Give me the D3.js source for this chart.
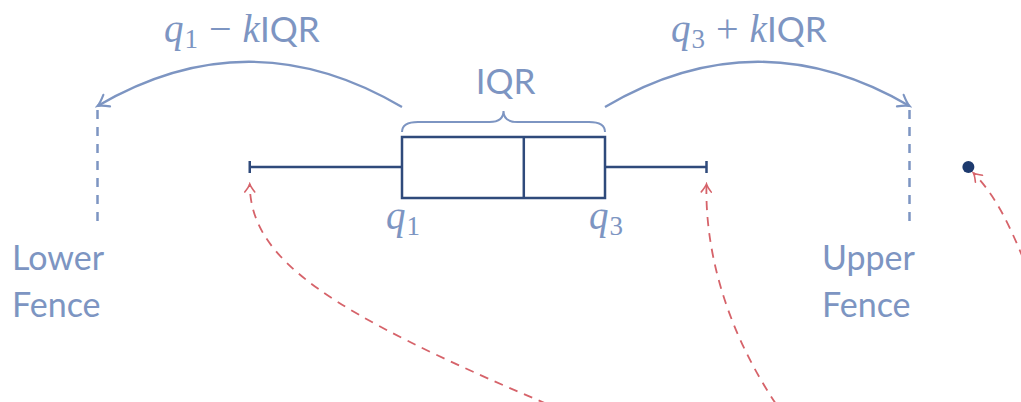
<!DOCTYPE html>
<html>
<head>
<meta charset="utf-8">
<script src="https://cdn.jsdelivr.net/npm/d3@7"></script>
<style>
  html, body { margin: 0; padding: 0; background: #fff; }
  svg { display: block; }
</style>
</head>
<body>
<div id="chart"></div>
<script>
// Box plot summary (IQR = 1, k = 1.5)
var statNames = ["lowerFence", "whiskerLow", "q1", "median", "q3", "whiskerHigh", "upperFence"];
var statValues = [-1.5, -0.75, 0, 0.6, 1, 1.5, 2.5];
var outliers = [2.79];
var kFactor = 1.5;

// Text labels
var fenceLabels = [["Lower", "Fence"], ["Upper", "Fence"]];
var quartileLabels = ["1", "3"];

var svgWidth = 1021;
var svgHeight = 402;

var light = "#7d95c2";
var dark = "#2f4a7b";
var red = "#d6636a";

var stats = {};
statNames.forEach(function(n, i) { stats[n] = statValues[i]; });

var x = d3.scaleLinear()
    .domain([stats.q1, stats.q3])
    .range([402, 605]);

var midY = 167;
var boxTop = 137;
var boxBottom = 198;

var svg = d3.select("#chart")
    .append("svg")
    .attr("width", svgWidth)
    .attr("height", svgHeight);

var defs = svg.append("defs");

// open chevron arrowheads
function addMarker(id, color, size) {
    defs.append("marker")
        .attr("id", id)
        .attr("viewBox", "-10 -6 12 12")
        .attr("refX", 0)
        .attr("refY", 0)
        .attr("markerWidth", size)
        .attr("markerHeight", size)
        .attr("markerUnits", "userSpaceOnUse")
        .attr("orient", "auto")
      .append("path")
        .attr("d", "M-8,-5 Q-3,-1 0,0 Q-3,1 -8,5")
        .attr("fill", "none")
        .attr("stroke", color)
        .attr("stroke-width", 1.6)
        .attr("stroke-linecap", "round");
}
addMarker("arrowBlue", light, 16);
addMarker("arrowRed", red, 12);

// whisker line
svg.append("line")
    .attr("x1", x(stats.whiskerLow))
    .attr("x2", x(stats.whiskerHigh))
    .attr("y1", midY)
    .attr("y2", midY)
    .attr("stroke", dark)
    .attr("stroke-width", 2.5);

// whisker caps
svg.selectAll(".cap")
    .data([stats.whiskerLow, stats.whiskerHigh])
    .enter().append("line")
    .attr("class", "cap")
    .attr("x1", d => x(d))
    .attr("x2", d => x(d))
    .attr("y1", midY - 6)
    .attr("y2", midY + 6)
    .attr("stroke", dark)
    .attr("stroke-width", 2.5);

// box
svg.append("rect")
    .attr("x", x(stats.q1))
    .attr("y", boxTop)
    .attr("width", x(stats.q3) - x(stats.q1))
    .attr("height", boxBottom - boxTop)
    .attr("fill", "#fff")
    .attr("stroke", dark)
    .attr("stroke-width", 2.5);

// median
svg.append("line")
    .attr("x1", x(stats.median))
    .attr("x2", x(stats.median))
    .attr("y1", boxTop)
    .attr("y2", boxBottom)
    .attr("stroke", dark)
    .attr("stroke-width", 2.5);

// outlier
svg.selectAll(".outlier")
    .data(outliers)
    .enter().append("circle")
    .attr("class", "outlier")
    .attr("cx", d => x(d))
    .attr("cy", midY)
    .attr("r", 6)
    .attr("fill", "#1d3a6e");

// fences (dashed verticals)
svg.selectAll(".fence")
    .data([stats.lowerFence, stats.upperFence])
    .enter().append("line")
    .attr("class", "fence")
    .attr("x1", d => x(d))
    .attr("x2", d => x(d))
    .attr("y1", 110)
    .attr("y2", 224)
    .attr("stroke", light)
    .attr("stroke-width", 2.5)
    .attr("stroke-dasharray", "9,8");

// brace over IQR
var bx0 = x(stats.q1), bx1 = x(stats.q3), bm = x((stats.q1 + stats.q3) / 2);
var brace = d3.path();
brace.moveTo(bx0, 132);
brace.quadraticCurveTo(bx0, 122, bx0 + 16, 122);
brace.lineTo(bm - 14, 122);
brace.quadraticCurveTo(bm, 122, bm, 111);
brace.quadraticCurveTo(bm, 122, bm + 14, 122);
brace.lineTo(bx1 - 16, 122);
brace.quadraticCurveTo(bx1, 122, bx1, 132);
svg.append("path")
    .attr("d", brace.toString())
    .attr("fill", "none")
    .attr("stroke", light)
    .attr("stroke-width", 2);

// arcs from quartiles to fences
function arc(from, to) {
    var p = d3.path();
    var x0 = x(from), x1 = x(to);
    p.moveTo(x0, 107);
    p.quadraticCurveTo((x0 + x1) / 2, 17, x1, 106);
    return p.toString();
}
svg.append("path")
    .attr("d", arc(stats.q1, stats.lowerFence))
    .attr("fill", "none")
    .attr("stroke", light)
    .attr("stroke-width", 2.3)
    .attr("marker-end", "url(#arrowBlue)");
svg.append("path")
    .attr("d", arc(stats.q3, stats.upperFence))
    .attr("fill", "none")
    .attr("stroke", light)
    .attr("stroke-width", 2.3)
    .attr("marker-end", "url(#arrowBlue)");

// red dashed pointers to whisker ends and outlier
var redCurves = [
    { x0: 547, y0: 404, c1: [330, 312], c2: [250, 260], target: stats.whiskerLow },
    { x0: 776, y0: 404, c1: [720, 320], c2: [705, 240], target: stats.whiskerHigh },
    { x0: 1023, y0: 258, c1: [1008, 222], c2: [995, 195], target: outliers[0], toDot: true }
];
svg.selectAll(".pointer")
    .data(redCurves)
    .enter().append("path")
    .attr("class", "pointer")
    .attr("d", function(d) {
        var p = d3.path();
        var tx = x(d.target) + (d.toDot ? 5 : 0);
        var ty = d.toDot ? midY + 6 : midY + 17;
        p.moveTo(d.x0, d.y0);
        p.bezierCurveTo(d.c1[0], d.c1[1], d.c2[0], d.c2[1], tx, ty);
        return p.toString();
    })
    .attr("fill", "none")
    .attr("stroke", red)
    .attr("stroke-width", 1.8)
    .attr("stroke-dasharray", "9,7")
    .attr("marker-end", "url(#arrowRed)");

// text
var sans = "Lato, 'Open Sans', sans-serif";
var serif = "'Liberation Serif', serif";

svg.append("text")
    .attr("x", bm + 2)
    .attr("y", 94)
    .attr("text-anchor", "middle")
    .attr("font-family", sans)
    .attr("font-size", 35)
    .attr("fill", light)
    .text("IQR");

// quartile labels under box
svg.selectAll(".qlab")
    .data([stats.q1, stats.q3])
    .enter().append("text")
    .attr("class", "qlab")
    .attr("x", d => x(d) - 16)
    .attr("y", 229)
    .attr("font-family", serif)
    .attr("font-size", 39)
    .attr("fill", light)
    .each(function(d, i) {
        var t = d3.select(this);
        t.append("tspan").attr("font-style", "italic").text("q");
        t.append("tspan").attr("font-size", 27).attr("dy", 6).attr("dx", 1).text(quartileLabels[i]);
    });

// formula labels above arcs
var formulas = [
    { x: 164, sign: "\u2212", idx: 0 },
    { x: 671, sign: "+", idx: 1 }
];
svg.selectAll(".formula")
    .data(formulas)
    .enter().append("text")
    .attr("class", "formula")
    .attr("x", d => d.x)
    .attr("y", 42)
    .attr("font-size", 39)
    .attr("fill", light)
    .each(function(d) {
        var t = d3.select(this);
        t.append("tspan").attr("font-family", serif).attr("font-style", "italic").text("q");
        t.append("tspan").attr("font-family", serif).attr("font-size", 27).attr("dy", 6).attr("dx", 1).text(quartileLabels[d.idx]);
        t.append("tspan").attr("font-family", serif).attr("font-size", 40).attr("dy", -6).attr("dx", 11).text(d.sign);
        t.append("tspan").attr("font-family", serif).attr("font-style", "italic").attr("dx", 11).text("k");
        t.append("tspan").attr("font-family", sans).attr("font-size", 35).text("IQR");
    });

// fence labels
var fencePos = [{ x: 12 }, { x: 822 }];
fenceLabels.forEach(function(lines, i) {
    svg.append("text")
        .attr("x", fencePos[i].x)
        .attr("y", 270)
        .attr("font-family", sans)
        .attr("font-size", 34)
        .attr("fill", light)
        .selectAll("tspan")
        .data(lines)
        .enter().append("tspan")
        .attr("x", fencePos[i].x)
        .attr("dy", (d, j) => j === 0 ? 0 : 47)
        .text(d => d);
});
</script>
</body>
</html>
